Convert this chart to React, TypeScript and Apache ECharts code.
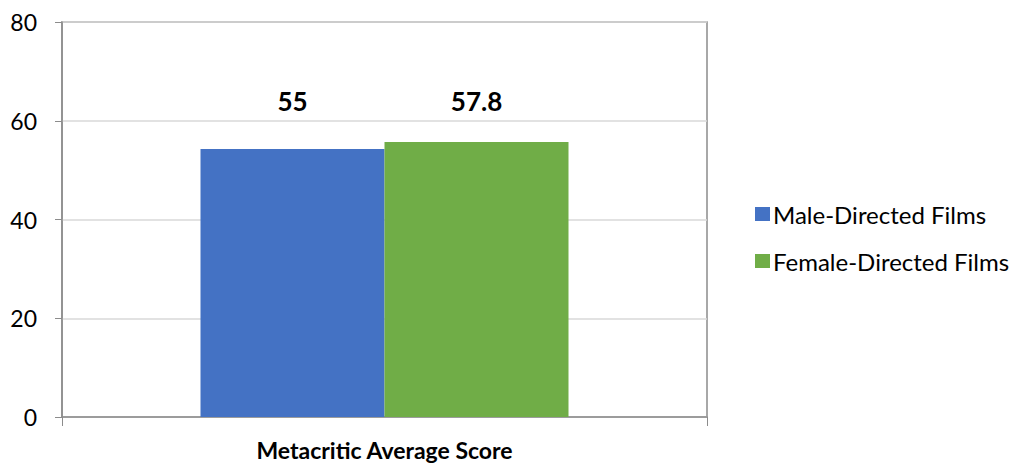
import React, { useEffect, useRef } from "react";
import * as echarts from "echarts";

const categories = ["Metacritic Average Score"];
const seriesNames = ["Male-Directed Films", "Female-Directed Films"];
const maleValues = [54.3];
const femaleValues = [55.7];
const dataLabels = ["55", "57.8"];
const yTicks = [0, 20, 40, 60, 80];
const colors = ["#4472C4", "#70AD47"];

const FONT = "Lato, 'Open Sans', sans-serif";

export default function App() {
  const ref = useRef<HTMLDivElement>(null);
  useEffect(() => {
    document.body.style.margin = "0";
    if (!ref.current) return;
    const chart = echarts.init(ref.current, undefined, { renderer: "svg" });
    const gridTop = 22;
    const gridBottom = 46;
    const plotH = 463 - gridTop - gridBottom;
    const yMax = yTicks[yTicks.length - 1];
    const pxPerUnit = plotH / yMax;
    const labelLevel = 64.1; // value level where labels sit
    const mkLabel = (text: string, value: number) => ({
      show: true,
      position: "top",
      distance: (labelLevel - value) * pxPerUnit - 13,
      formatter: text,
      color: "#000",
      fontFamily: FONT,
      fontWeight: "bold",
      fontSize: 26,
      lineHeight: 26,
    });
    chart.setOption({
      animation: false,
      backgroundColor: "#fff",
      textStyle: { fontFamily: FONT },
      grid: {
        left: 62,
        right: 309,
        top: gridTop,
        bottom: gridBottom,
        show: true,
        borderColor: "#8c8c8c",
        borderWidth: 1.5,
      },
      legend: {
        orient: "vertical",
        left: 750,
        top: 197,
        icon: "rect",
        itemWidth: 15,
        itemHeight: 14,
        itemGap: 23,
        data: seriesNames,
        textStyle: {
          fontFamily: FONT,
          fontSize: 24,
          lineHeight: 24,
          color: "#000",
          padding: [0, 0, 0, -2],
        },
      },
      xAxis: {
        type: "category",
        data: categories,
        axisLine: { show: true, lineStyle: { color: "#8c8c8c", width: 1.5 } },
        axisTick: { show: true, length: 9, lineStyle: { color: "#8c8c8c" } },
        axisLabel: {
          color: "#000",
          fontFamily: FONT,
          fontWeight: "bold",
          fontSize: 23,
          lineHeight: 24,
          margin: 21,
        },
      },
      yAxis: {
        type: "value",
        min: yTicks[0],
        max: yMax,
        interval: 20,
        axisLine: { show: true, lineStyle: { color: "#8c8c8c", width: 1.5 } },
        axisTick: { show: true, length: 7, lineStyle: { color: "#8c8c8c" } },
        splitLine: { show: true, lineStyle: { color: "#d9d9d9", width: 1.5 } },
        axisLabel: {
          color: "#000",
          fontFamily: FONT,
          fontSize: 23,
          margin: 25,
        },
      },
      series: [
        {
          name: seriesNames[0],
          type: "bar",
          data: maleValues,
          barWidth: 184,
          barGap: "0%",
          itemStyle: { color: colors[0] },
          label: mkLabel(dataLabels[0], maleValues[0]),
        },
        {
          name: seriesNames[1],
          type: "bar",
          data: femaleValues,
          barWidth: 184,
          barGap: "0%",
          itemStyle: { color: colors[1] },
          label: mkLabel(dataLabels[1], femaleValues[0]),
        },
      ],
    });
    return () => chart.dispose();
  }, []);
  return <div ref={ref} style={{ width: 1016, height: 463 }} />;
}
